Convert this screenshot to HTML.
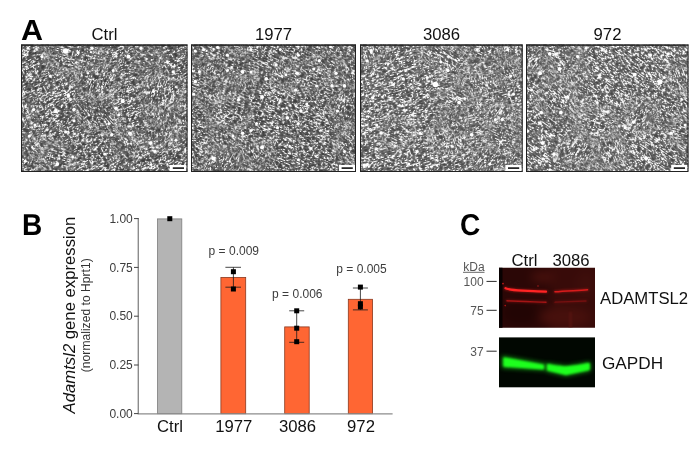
<!DOCTYPE html>
<html><head><meta charset="utf-8">
<style>
html,body{margin:0;padding:0;background:#fff;}
body{width:700px;height:455px;position:relative;overflow:hidden;font-family:"Liberation Sans",sans-serif;color:#1a1a1a;}
.abs{position:absolute;white-space:nowrap;line-height:1;}
.pl{font-weight:bold;font-size:29px;color:#000;transform:scale(0.967,1.04);transform-origin:0 24.5px;text-rendering:geometricPrecision;}
.t16{font-size:16.7px;color:#111;}
.t11{font-size:12px;color:#3c3c3c;}
.t12{font-size:12px;color:#3c3c3c;}
.c{transform:translateX(-50%);}
.r{transform:translateX(-100%);}
</style></head><body>
<svg width="700" height="455" viewBox="0 0 700 455" style="position:absolute;left:0;top:0">
<defs>
<filter id="cells" x="0" y="0" width="100%" height="100%" color-interpolation-filters="sRGB">
  <feTurbulence type="fractalNoise" baseFrequency="0.18 0.42" numOctaves="2" seed="3"/>
  <feColorMatrix type="matrix" values="1 0 0 0 0  1 0 0 0 0  1 0 0 0 0  0 0 0 0 1"/>
  <feComponentTransfer>
    <feFuncR type="table" tableValues="0.24 0.24 0.24 0.24 0.24 0.24 0.24 0.24 0.24 0.24 0.24 0.24 0.24 0.24 0.24 0.24 0.24 0.24 0.24 0.24 0.24 0.24 0.24 0.24 0.24 0.24 0.24 0.24 0.25 0.26 0.27 0.29 0.30 0.31 0.32 0.33 0.34 0.35 0.36 0.38 0.39 0.40 0.41 0.42 0.43 0.44 0.59 0.87 1.00 1.00 1.00 1.00 1.00 0.87 0.59 0.44 0.43 0.42 0.41 0.40 0.39 0.38 0.36 0.35 0.34 0.33 0.32 0.31 0.30 0.29 0.27 0.26 0.25 0.24 0.24 0.24 0.24 0.24 0.24 0.24 0.24 0.97 0.97 0.97 0.97 0.97 0.97 0.97 0.97 0.97 0.97 0.97 0.97 0.97 0.97 0.97 0.97 0.97 0.97 0.97 0.97"/>
    <feFuncG type="table" tableValues="0.24 0.24 0.24 0.24 0.24 0.24 0.24 0.24 0.24 0.24 0.24 0.24 0.24 0.24 0.24 0.24 0.24 0.24 0.24 0.24 0.24 0.24 0.24 0.24 0.24 0.24 0.24 0.24 0.25 0.26 0.27 0.29 0.30 0.31 0.32 0.33 0.34 0.35 0.36 0.38 0.39 0.40 0.41 0.42 0.43 0.44 0.59 0.87 1.00 1.00 1.00 1.00 1.00 0.87 0.59 0.44 0.43 0.42 0.41 0.40 0.39 0.38 0.36 0.35 0.34 0.33 0.32 0.31 0.30 0.29 0.27 0.26 0.25 0.24 0.24 0.24 0.24 0.24 0.24 0.24 0.24 0.97 0.97 0.97 0.97 0.97 0.97 0.97 0.97 0.97 0.97 0.97 0.97 0.97 0.97 0.97 0.97 0.97 0.97 0.97 0.97"/>
    <feFuncB type="table" tableValues="0.24 0.24 0.24 0.24 0.24 0.24 0.24 0.24 0.24 0.24 0.24 0.24 0.24 0.24 0.24 0.24 0.24 0.24 0.24 0.24 0.24 0.24 0.24 0.24 0.24 0.24 0.24 0.24 0.25 0.26 0.27 0.29 0.30 0.31 0.32 0.33 0.34 0.35 0.36 0.38 0.39 0.40 0.41 0.42 0.43 0.44 0.59 0.87 1.00 1.00 1.00 1.00 1.00 0.87 0.59 0.44 0.43 0.42 0.41 0.40 0.39 0.38 0.36 0.35 0.34 0.33 0.32 0.31 0.30 0.29 0.27 0.26 0.25 0.24 0.24 0.24 0.24 0.24 0.24 0.24 0.24 0.97 0.97 0.97 0.97 0.97 0.97 0.97 0.97 0.97 0.97 0.97 0.97 0.97 0.97 0.97 0.97 0.97 0.97 0.97 0.97"/>
  </feComponentTransfer>
  <feGaussianBlur stdDeviation="0.25"/>
</filter>
<filter id="cells2" x="0" y="0" width="100%" height="100%" color-interpolation-filters="sRGB">
  <feTurbulence type="fractalNoise" baseFrequency="0.18 0.42" numOctaves="2" seed="8"/>
  <feColorMatrix type="matrix" values="1 0 0 0 0  1 0 0 0 0  1 0 0 0 0  0 0 0 0 1"/>
  <feComponentTransfer>
    <feFuncR type="table" tableValues="0.28 0.28 0.28 0.28 0.28 0.28 0.28 0.28 0.28 0.28 0.28 0.28 0.28 0.28 0.28 0.28 0.28 0.28 0.28 0.28 0.28 0.28 0.28 0.28 0.28 0.28 0.28 0.28 0.29 0.30 0.31 0.32 0.33 0.34 0.35 0.36 0.38 0.39 0.40 0.41 0.42 0.43 0.44 0.45 0.46 0.47 0.73 0.99 1.00 1.00 1.00 1.00 1.00 0.99 0.73 0.47 0.46 0.45 0.44 0.43 0.42 0.41 0.40 0.39 0.38 0.36 0.35 0.34 0.33 0.32 0.31 0.30 0.29 0.28 0.28 0.28 0.28 0.28 0.28 0.28 0.28 0.97 0.97 0.97 0.97 0.97 0.97 0.97 0.97 0.97 0.97 0.97 0.97 0.97 0.97 0.97 0.97 0.97 0.97 0.97 0.97"/>
    <feFuncG type="table" tableValues="0.28 0.28 0.28 0.28 0.28 0.28 0.28 0.28 0.28 0.28 0.28 0.28 0.28 0.28 0.28 0.28 0.28 0.28 0.28 0.28 0.28 0.28 0.28 0.28 0.28 0.28 0.28 0.28 0.29 0.30 0.31 0.32 0.33 0.34 0.35 0.36 0.38 0.39 0.40 0.41 0.42 0.43 0.44 0.45 0.46 0.47 0.73 0.99 1.00 1.00 1.00 1.00 1.00 0.99 0.73 0.47 0.46 0.45 0.44 0.43 0.42 0.41 0.40 0.39 0.38 0.36 0.35 0.34 0.33 0.32 0.31 0.30 0.29 0.28 0.28 0.28 0.28 0.28 0.28 0.28 0.28 0.97 0.97 0.97 0.97 0.97 0.97 0.97 0.97 0.97 0.97 0.97 0.97 0.97 0.97 0.97 0.97 0.97 0.97 0.97 0.97"/>
    <feFuncB type="table" tableValues="0.28 0.28 0.28 0.28 0.28 0.28 0.28 0.28 0.28 0.28 0.28 0.28 0.28 0.28 0.28 0.28 0.28 0.28 0.28 0.28 0.28 0.28 0.28 0.28 0.28 0.28 0.28 0.28 0.29 0.30 0.31 0.32 0.33 0.34 0.35 0.36 0.38 0.39 0.40 0.41 0.42 0.43 0.44 0.45 0.46 0.47 0.73 0.99 1.00 1.00 1.00 1.00 1.00 0.99 0.73 0.47 0.46 0.45 0.44 0.43 0.42 0.41 0.40 0.39 0.38 0.36 0.35 0.34 0.33 0.32 0.31 0.30 0.29 0.28 0.28 0.28 0.28 0.28 0.28 0.28 0.28 0.97 0.97 0.97 0.97 0.97 0.97 0.97 0.97 0.97 0.97 0.97 0.97 0.97 0.97 0.97 0.97 0.97 0.97 0.97 0.97"/>
  </feComponentTransfer>
  <feGaussianBlur stdDeviation="0.25"/>
</filter>
<filter color-interpolation-filters="sRGB" id="bw" x="-5%" y="-5%" width="110%" height="110%"><feGaussianBlur stdDeviation="0.55"/></filter>
<filter color-interpolation-filters="sRGB" id="bg" x="-5%" y="-5%" width="110%" height="110%"><feGaussianBlur stdDeviation="1.2"/></filter>
<filter color-interpolation-filters="sRGB" id="mb" x="-50%" y="-50%" width="200%" height="200%"><feGaussianBlur stdDeviation="5"/></filter>
<clipPath id="pc0"><rect x="21" y="44.5" width="166.5" height="127.5"/></clipPath>
<mask id="pm0_0" maskUnits="userSpaceOnUse" x="1" y="24" width="206.5" height="168"><g fill="#fff" filter="url(#mb)"><ellipse cx="96" cy="115" rx="21" ry="14"/><ellipse cx="106" cy="119" rx="14" ry="14"/><ellipse cx="126" cy="145" rx="13" ry="12"/><ellipse cx="36" cy="147" rx="19" ry="10"/></g></mask>
<mask id="pm0_1" maskUnits="userSpaceOnUse" x="1" y="24" width="206.5" height="168"><g fill="#fff" filter="url(#mb)"><ellipse cx="182" cy="127" rx="18" ry="11"/><ellipse cx="23" cy="111" rx="13" ry="12"/><ellipse cx="61" cy="48" rx="17" ry="14"/><ellipse cx="161" cy="110" rx="18" ry="14"/></g></mask>
<mask id="pm0_2" maskUnits="userSpaceOnUse" x="1" y="24" width="206.5" height="168"><g fill="#fff" filter="url(#mb)"><ellipse cx="97" cy="79" rx="22" ry="18"/><ellipse cx="161" cy="134" rx="15" ry="12"/><ellipse cx="69" cy="53" rx="20" ry="13"/><ellipse cx="162" cy="93" rx="22" ry="17"/></g></mask>
<mask id="pm0_3" maskUnits="userSpaceOnUse" x="1" y="24" width="206.5" height="168"><g fill="#fff" filter="url(#mb)"><ellipse cx="56" cy="160" rx="17" ry="18"/><ellipse cx="87" cy="53" rx="18" ry="16"/><ellipse cx="66" cy="55" rx="15" ry="18"/><ellipse cx="147" cy="59" rx="14" ry="11"/></g></mask>
<clipPath id="pc1"><rect x="191" y="44.5" width="165" height="127.5"/></clipPath>
<mask id="pm1_0" maskUnits="userSpaceOnUse" x="171" y="24" width="205" height="168"><g fill="#fff" filter="url(#mb)"><ellipse cx="323" cy="67" rx="18" ry="14"/><ellipse cx="222" cy="137" rx="13" ry="15"/><ellipse cx="210" cy="97" rx="14" ry="12"/><ellipse cx="351" cy="146" rx="15" ry="17"/></g></mask>
<mask id="pm1_1" maskUnits="userSpaceOnUse" x="171" y="24" width="205" height="168"><g fill="#fff" filter="url(#mb)"><ellipse cx="256" cy="153" rx="18" ry="11"/><ellipse cx="354" cy="71" rx="15" ry="16"/><ellipse cx="245" cy="82" rx="13" ry="11"/><ellipse cx="287" cy="75" rx="18" ry="13"/></g></mask>
<mask id="pm1_2" maskUnits="userSpaceOnUse" x="171" y="24" width="205" height="168"><g fill="#fff" filter="url(#mb)"><ellipse cx="349" cy="105" rx="18" ry="17"/><ellipse cx="221" cy="64" rx="21" ry="17"/><ellipse cx="232" cy="68" rx="19" ry="18"/><ellipse cx="223" cy="165" rx="21" ry="15"/></g></mask>
<mask id="pm1_3" maskUnits="userSpaceOnUse" x="171" y="24" width="205" height="168"><g fill="#fff" filter="url(#mb)"><ellipse cx="208" cy="49" rx="22" ry="12"/><ellipse cx="307" cy="77" rx="20" ry="15"/><ellipse cx="239" cy="66" rx="19" ry="11"/><ellipse cx="229" cy="115" rx="21" ry="15"/></g></mask>
<clipPath id="pc2"><rect x="360" y="44.5" width="162.5" height="127.5"/></clipPath>
<mask id="pm2_0" maskUnits="userSpaceOnUse" x="340" y="24" width="202.5" height="168"><g fill="#fff" filter="url(#mb)"><ellipse cx="509" cy="70" rx="12" ry="12"/><ellipse cx="432" cy="52" rx="14" ry="13"/><ellipse cx="453" cy="61" rx="16" ry="17"/><ellipse cx="519" cy="127" rx="19" ry="15"/></g></mask>
<mask id="pm2_1" maskUnits="userSpaceOnUse" x="340" y="24" width="202.5" height="168"><g fill="#fff" filter="url(#mb)"><ellipse cx="366" cy="46" rx="21" ry="16"/><ellipse cx="516" cy="47" rx="18" ry="14"/><ellipse cx="479" cy="85" rx="22" ry="11"/><ellipse cx="449" cy="138" rx="21" ry="16"/></g></mask>
<mask id="pm2_2" maskUnits="userSpaceOnUse" x="340" y="24" width="202.5" height="168"><g fill="#fff" filter="url(#mb)"><ellipse cx="489" cy="160" rx="16" ry="15"/><ellipse cx="506" cy="155" rx="16" ry="16"/><ellipse cx="500" cy="117" rx="18" ry="13"/><ellipse cx="455" cy="121" rx="13" ry="15"/></g></mask>
<mask id="pm2_3" maskUnits="userSpaceOnUse" x="340" y="24" width="202.5" height="168"><g fill="#fff" filter="url(#mb)"><ellipse cx="503" cy="136" rx="16" ry="16"/><ellipse cx="454" cy="100" rx="20" ry="11"/><ellipse cx="482" cy="48" rx="18" ry="14"/><ellipse cx="397" cy="133" rx="17" ry="15"/></g></mask>
<clipPath id="pc3"><rect x="526" y="44.5" width="162.5" height="127.5"/></clipPath>
<mask id="pm3_0" maskUnits="userSpaceOnUse" x="506" y="24" width="202.5" height="168"><g fill="#fff" filter="url(#mb)"><ellipse cx="568" cy="45" rx="15" ry="15"/><ellipse cx="559" cy="66" rx="21" ry="15"/><ellipse cx="598" cy="157" rx="15" ry="15"/><ellipse cx="558" cy="99" rx="20" ry="17"/></g></mask>
<mask id="pm3_1" maskUnits="userSpaceOnUse" x="506" y="24" width="202.5" height="168"><g fill="#fff" filter="url(#mb)"><ellipse cx="588" cy="118" rx="15" ry="11"/><ellipse cx="607" cy="150" rx="20" ry="16"/><ellipse cx="680" cy="79" rx="14" ry="14"/><ellipse cx="571" cy="71" rx="16" ry="15"/></g></mask>
<mask id="pm3_2" maskUnits="userSpaceOnUse" x="506" y="24" width="202.5" height="168"><g fill="#fff" filter="url(#mb)"><ellipse cx="577" cy="151" rx="22" ry="14"/><ellipse cx="538" cy="48" rx="21" ry="10"/><ellipse cx="641" cy="116" rx="15" ry="16"/><ellipse cx="529" cy="61" rx="17" ry="10"/></g></mask>
<mask id="pm3_3" maskUnits="userSpaceOnUse" x="506" y="24" width="202.5" height="168"><g fill="#fff" filter="url(#mb)"><ellipse cx="565" cy="62" rx="12" ry="15"/><ellipse cx="599" cy="124" rx="19" ry="16"/><ellipse cx="682" cy="131" rx="14" ry="14"/><ellipse cx="555" cy="45" rx="17" ry="16"/></g></mask>
<filter color-interpolation-filters="sRGB" id="b1" x="-20%" y="-100%" width="140%" height="300%"><feGaussianBlur stdDeviation="0.7"/></filter>
<filter color-interpolation-filters="sRGB" id="b2" x="-20%" y="-100%" width="140%" height="300%"><feGaussianBlur stdDeviation="1.1"/></filter>
<filter color-interpolation-filters="sRGB" id="b4" x="-20%" y="-200%" width="140%" height="500%"><feGaussianBlur stdDeviation="1.3"/></filter>
<filter color-interpolation-filters="sRGB" id="b5" x="-20%" y="-100%" width="140%" height="300%"><feGaussianBlur stdDeviation="2"/></filter>
<filter color-interpolation-filters="sRGB" id="b6" x="-20%" y="-100%" width="140%" height="300%"><feGaussianBlur stdDeviation="0.8"/></filter>
<filter color-interpolation-filters="sRGB" id="b3" filterUnits="userSpaceOnUse" x="470" y="240" width="160" height="120"><feGaussianBlur stdDeviation="5"/></filter>
<clipPath id="cr"><rect x="499" y="267.7" width="96" height="60"/></clipPath>
<clipPath id="cg"><rect x="499" y="337.2" width="96" height="50.4"/></clipPath>
</defs>

<!-- Panel A images -->
<g id="pA">
<g clip-path="url(#pc0)">
<g transform="rotate(-28 104.25 107.5)"><rect x="-24" y="-15" width="256.5" height="245" filter="url(#cells)"/></g>
<g mask="url(#pm0_0)"><g transform="rotate(49 104.25 107.5)"><rect x="-24" y="-15" width="256.5" height="245" filter="url(#cells)"/></g></g>
<g mask="url(#pm0_1)"><g transform="rotate(70 104.25 107.5)"><rect x="-24" y="-15" width="256.5" height="245" filter="url(#cells)"/></g></g>
<g mask="url(#pm0_2)"><g transform="rotate(-69 104.25 107.5)"><rect x="-24" y="-15" width="256.5" height="245" filter="url(#cells)"/></g></g>
<g mask="url(#pm0_3)"><g transform="rotate(14 104.25 107.5)"><rect x="-24" y="-15" width="256.5" height="245" filter="url(#cells)"/></g></g>
</g>
<g clip-path="url(#pc1)">
<g transform="rotate(22 273.5 107.5)"><rect x="146" y="-15" width="255" height="245" filter="url(#cells)"/></g>
<g mask="url(#pm1_0)"><g transform="rotate(38 273.5 107.5)"><rect x="146" y="-15" width="255" height="245" filter="url(#cells)"/></g></g>
<g mask="url(#pm1_1)"><g transform="rotate(67 273.5 107.5)"><rect x="146" y="-15" width="255" height="245" filter="url(#cells)"/></g></g>
<g mask="url(#pm1_2)"><g transform="rotate(-63 273.5 107.5)"><rect x="146" y="-15" width="255" height="245" filter="url(#cells)"/></g></g>
<g mask="url(#pm1_3)"><g transform="rotate(17 273.5 107.5)"><rect x="146" y="-15" width="255" height="245" filter="url(#cells)"/></g></g>
</g>
<g clip-path="url(#pc2)">
<g transform="rotate(-15 441.25 107.5)"><rect x="315" y="-15" width="252.5" height="245" filter="url(#cells2)"/></g>
<g mask="url(#pm2_0)"><g transform="rotate(37 441.25 107.5)"><rect x="315" y="-15" width="252.5" height="245" filter="url(#cells2)"/></g></g>
<g mask="url(#pm2_1)"><g transform="rotate(71 441.25 107.5)"><rect x="315" y="-15" width="252.5" height="245" filter="url(#cells2)"/></g></g>
<g mask="url(#pm2_2)"><g transform="rotate(-55 441.25 107.5)"><rect x="315" y="-15" width="252.5" height="245" filter="url(#cells2)"/></g></g>
<g mask="url(#pm2_3)"><g transform="rotate(26 441.25 107.5)"><rect x="315" y="-15" width="252.5" height="245" filter="url(#cells2)"/></g></g>
</g>
<g clip-path="url(#pc3)">
<g transform="rotate(35 607.25 107.5)"><rect x="481" y="-15" width="252.5" height="245" filter="url(#cells2)"/></g>
<g mask="url(#pm3_0)"><g transform="rotate(47 607.25 107.5)"><rect x="481" y="-15" width="252.5" height="245" filter="url(#cells2)"/></g></g>
<g mask="url(#pm3_1)"><g transform="rotate(68 607.25 107.5)"><rect x="481" y="-15" width="252.5" height="245" filter="url(#cells2)"/></g></g>
<g mask="url(#pm3_2)"><g transform="rotate(-57 607.25 107.5)"><rect x="481" y="-15" width="252.5" height="245" filter="url(#cells2)"/></g></g>
<g mask="url(#pm3_3)"><g transform="rotate(16 607.25 107.5)"><rect x="481" y="-15" width="252.5" height="245" filter="url(#cells2)"/></g></g>
</g>
<g fill="#6e6e6e" filter="url(#bg)" opacity="0.85">
<ellipse cx="418.6" cy="71.9" rx="4.5" ry="2.2"/>
<ellipse cx="443.7" cy="95.6" rx="2.8" ry="2.2"/>
<ellipse cx="382.3" cy="87.3" rx="2.8" ry="1.7"/>
<ellipse cx="505.1" cy="102.6" rx="2.2" ry="2.8"/>
<ellipse cx="385.1" cy="126.3" rx="2.2" ry="1.4"/>
<ellipse cx="420.0" cy="151.5" rx="2.2" ry="2.2"/>
<ellipse cx="648.8" cy="118.0" rx="3.3" ry="3.3"/>
<ellipse cx="537.2" cy="133.3" rx="3.3" ry="2.2"/>
<ellipse cx="618.1" cy="136.1" rx="3.9" ry="1.7"/>
<ellipse cx="584.6" cy="95.6" rx="2.2" ry="2.2"/>
</g>
<g fill="#fff" filter="url(#bw)">
<circle cx="65.6" cy="51.0" r="2.8"/>
<circle cx="78.2" cy="52.4" r="1.5"/>
<circle cx="92.1" cy="48.2" r="1.5"/>
<circle cx="128.4" cy="56.6" r="2.0"/>
<circle cx="141.0" cy="48.2" r="1.6"/>
<circle cx="173.1" cy="71.9" r="1.6"/>
<circle cx="167.5" cy="62.1" r="1.5"/>
<circle cx="41.9" cy="56.6" r="1.6"/>
<circle cx="28.0" cy="48.2" r="1.5"/>
<circle cx="50.3" cy="76.1" r="1.6"/>
<circle cx="113.1" cy="70.5" r="1.5"/>
<circle cx="88.0" cy="73.3" r="1.2"/>
<circle cx="68.4" cy="95.6" r="1.8"/>
<circle cx="122.8" cy="101.2" r="2.0"/>
<circle cx="153.5" cy="91.4" r="1.6"/>
<circle cx="115.9" cy="108.2" r="1.8"/>
<circle cx="55.9" cy="111.0" r="1.9"/>
<circle cx="74.0" cy="109.6" r="1.8"/>
<circle cx="33.6" cy="109.6" r="1.6"/>
<circle cx="35.0" cy="124.9" r="1.5"/>
<circle cx="74.0" cy="120.7" r="1.5"/>
<circle cx="118.7" cy="115.1" r="1.5"/>
<circle cx="108.9" cy="123.5" r="1.5"/>
<circle cx="29.4" cy="136.1" r="1.5"/>
<circle cx="65.6" cy="131.9" r="1.6"/>
<circle cx="111.7" cy="134.7" r="1.6"/>
<circle cx="129.8" cy="133.3" r="1.8"/>
<circle cx="150.7" cy="143.1" r="1.8"/>
<circle cx="57.3" cy="164.0" r="1.9"/>
<circle cx="72.6" cy="157.0" r="1.5"/>
<circle cx="25.2" cy="161.2" r="1.5"/>
<circle cx="154.9" cy="151.4" r="1.5"/>
<circle cx="175.9" cy="140.3" r="1.5"/>
<circle cx="104.7" cy="154.2" r="1.4"/>
<circle cx="195.2" cy="51.0" r="1.6"/>
<circle cx="203.6" cy="49.6" r="1.5"/>
<circle cx="217.5" cy="47.3" r="1.5"/>
<circle cx="227.3" cy="55.2" r="1.6"/>
<circle cx="251.0" cy="49.6" r="1.6"/>
<circle cx="280.3" cy="49.6" r="1.5"/>
<circle cx="298.4" cy="55.2" r="1.5"/>
<circle cx="319.3" cy="60.7" r="1.6"/>
<circle cx="330.5" cy="46.8" r="1.5"/>
<circle cx="195.2" cy="81.7" r="1.9"/>
<circle cx="199.4" cy="71.9" r="1.5"/>
<circle cx="227.3" cy="70.5" r="1.5"/>
<circle cx="242.6" cy="71.9" r="1.8"/>
<circle cx="251.0" cy="71.9" r="1.5"/>
<circle cx="266.3" cy="78.9" r="1.8"/>
<circle cx="276.1" cy="64.9" r="1.6"/>
<circle cx="285.9" cy="74.7" r="1.5"/>
<circle cx="297.0" cy="73.3" r="1.8"/>
<circle cx="313.8" cy="69.1" r="1.5"/>
<circle cx="336.1" cy="73.3" r="1.6"/>
<circle cx="344.5" cy="85.9" r="1.8"/>
<circle cx="331.9" cy="85.9" r="1.5"/>
<circle cx="316.6" cy="85.9" r="1.5"/>
<circle cx="295.6" cy="90.0" r="1.6"/>
<circle cx="306.8" cy="104.0" r="1.4"/>
<circle cx="262.1" cy="97.0" r="1.9"/>
<circle cx="238.4" cy="99.8" r="1.5"/>
<circle cx="301.2" cy="111.0" r="1.5"/>
<circle cx="287.3" cy="117.9" r="1.8"/>
<circle cx="298.4" cy="123.5" r="1.5"/>
<circle cx="277.5" cy="127.7" r="1.6"/>
<circle cx="256.6" cy="123.5" r="1.5"/>
<circle cx="251.0" cy="130.5" r="1.5"/>
<circle cx="242.6" cy="133.3" r="1.8"/>
<circle cx="232.9" cy="136.1" r="1.5"/>
<circle cx="262.1" cy="147.2" r="2.0"/>
<circle cx="213.3" cy="158.4" r="2.0"/>
<circle cx="311.0" cy="148.6" r="1.5"/>
<circle cx="298.4" cy="159.8" r="1.5"/>
<circle cx="344.5" cy="151.4" r="1.5"/>
<circle cx="337.5" cy="111.0" r="1.6"/>
<circle cx="193.8" cy="94.2" r="1.5"/>
<circle cx="435.4" cy="84.5" r="2.8"/>
<circle cx="447.9" cy="70.5" r="1.8"/>
<circle cx="440.9" cy="62.1" r="1.5"/>
<circle cx="459.1" cy="102.6" r="1.9"/>
<circle cx="464.7" cy="98.4" r="1.5"/>
<circle cx="427.0" cy="77.5" r="1.5"/>
<circle cx="403.3" cy="78.9" r="1.6"/>
<circle cx="393.5" cy="84.5" r="1.5"/>
<circle cx="502.3" cy="119.4" r="1.6"/>
<circle cx="495.4" cy="119.4" r="1.5"/>
<circle cx="471.6" cy="134.7" r="1.8"/>
<circle cx="420.0" cy="133.3" r="1.6"/>
<circle cx="376.7" cy="124.9" r="1.5"/>
<circle cx="510.7" cy="76.1" r="1.5"/>
<circle cx="513.5" cy="94.2" r="1.5"/>
<circle cx="364.2" cy="165.4" r="1.8"/>
<circle cx="417.2" cy="151.5" r="1.5"/>
<circle cx="489.8" cy="164.0" r="1.5"/>
<circle cx="408.8" cy="164.0" r="1.5"/>
<circle cx="477.2" cy="49.6" r="1.5"/>
<circle cx="507.9" cy="49.6" r="1.6"/>
<circle cx="367.0" cy="60.7" r="1.5"/>
<circle cx="380.9" cy="133.3" r="1.5"/>
<circle cx="549.7" cy="53.8" r="1.9"/>
<circle cx="540.0" cy="73.3" r="2.0"/>
<circle cx="559.5" cy="69.1" r="2.0"/>
<circle cx="577.6" cy="56.6" r="1.6"/>
<circle cx="660.0" cy="81.7" r="2.5"/>
<circle cx="664.2" cy="77.5" r="1.6"/>
<circle cx="634.8" cy="74.7" r="1.9"/>
<circle cx="650.2" cy="55.2" r="1.8"/>
<circle cx="668.3" cy="53.8" r="1.6"/>
<circle cx="560.9" cy="112.4" r="1.9"/>
<circle cx="541.4" cy="112.4" r="1.6"/>
<circle cx="542.7" cy="143.1" r="2.0"/>
<circle cx="553.9" cy="154.2" r="1.8"/>
<circle cx="633.5" cy="122.1" r="1.8"/>
<circle cx="625.1" cy="127.7" r="1.6"/>
<circle cx="671.1" cy="133.3" r="1.8"/>
<circle cx="646.0" cy="158.4" r="1.8"/>
<circle cx="597.2" cy="102.6" r="1.5"/>
<circle cx="531.6" cy="90.1" r="1.5"/>
<circle cx="567.9" cy="97.0" r="1.5"/>
<circle cx="586.0" cy="48.2" r="1.5"/>
<circle cx="685.1" cy="124.9" r="1.5"/>
</g>
<g fill="none" stroke="#222" stroke-width="1">
<rect x="21.5" y="45.2" width="165.5" height="126.3"/>
<rect x="191.5" y="45.2" width="164" height="126.3"/>
<rect x="360.5" y="45.2" width="161.7" height="126.3"/>
<rect x="526.5" y="45.2" width="161.5" height="126.3"/>
<path d="M21 44.95 H187.5 M191 44.95 H356 M360 44.95 H522.7 M526 44.95 H688.5" stroke-width="0.9"/>
</g>
<!-- scale bars -->
<g>
<rect x="170" y="165" width="16.2" height="6" fill="#fff"/><rect x="172.8" y="167.3" width="11.2" height="1.6" fill="#111"/>
<rect x="339" y="165" width="16" height="6" fill="#fff"/><rect x="341.6" y="167.3" width="11.2" height="1.6" fill="#111"/>
<rect x="505.4" y="165" width="16" height="6" fill="#fff"/><rect x="508" y="167.3" width="11.2" height="1.6" fill="#111"/>
<rect x="671.2" y="165" width="16" height="6" fill="#fff"/><rect x="673.8" y="167.3" width="11.2" height="1.6" fill="#111"/>
</g>
</g>

<!-- Panel B chart -->
<g id="pB">
<!-- bars -->
<rect x="157.5" y="218.9" width="24.3" height="194.8" fill="#b4b4b4" stroke="#7d7d7d" stroke-width="0.8"/>
<rect x="220.9" y="277.4" width="24.8" height="136.3" fill="#ff6633" stroke="#8a3a20" stroke-width="0.8"/>
<rect x="284.7" y="326.9" width="24.5" height="86.8" fill="#ff6633" stroke="#8a3a20" stroke-width="0.8"/>
<rect x="348.3" y="299.3" width="24.3" height="114.4" fill="#ff6633" stroke="#8a3a20" stroke-width="0.8"/>
<!-- axes -->
<g stroke="#8c8c8c" stroke-width="1.4" fill="none">
<path d="M138.3 218 V414"/>
<path d="M137.6 413.9 H392.6"/>
</g>
<g stroke="#444" stroke-width="1" fill="none">
<path d="M134 218.6 H138.5 M134 267.4 H138.5 M134 316.2 H138.5 M134 365 H138.5 M134 413.6 H138.5"/>
</g>
<!-- error bars -->
<g stroke="#1a1a1a" stroke-width="0.8" fill="none">
<path d="M233.4 267.3 V287.2 M225.4 267.3 H241 M225.4 287.2 H241"/>
<path d="M296.7 310.8 V342.3 M289.2 310.8 H304.2 M289.2 342.3 H304.2"/>
<path d="M360.4 288 V309.9 M352.9 288 H367.9 M352.9 309.9 H367.9"/>
</g>
<!-- markers -->
<g fill="#000">
<rect x="167.3" y="216.2" width="5" height="5"/>
<rect x="230.9" y="269.2" width="5" height="5"/>
<rect x="230.9" y="286.5" width="5" height="5"/>
<rect x="294.2" y="308.3" width="5" height="5"/>
<rect x="294.2" y="325.7" width="5" height="5"/>
<rect x="294.2" y="339.2" width="5" height="5"/>
<rect x="357.9" y="284.6" width="5" height="5"/>
<rect x="357.9" y="301.2" width="5" height="5"/>
<rect x="357.9" y="304.4" width="5" height="5"/>
</g>
</g>

<!-- Panel C blots -->
<g id="pC">
<g clip-path="url(#cr)">
<g filter="url(#b3)">
<rect x="475" y="245" width="150" height="110" fill="#2b0706"/>
<rect x="550" y="245" width="75" height="110" fill="#380b09"/>
<ellipse cx="565" cy="317" rx="26" ry="10" fill="#47100c"/>
<ellipse cx="543" cy="277" rx="12" ry="6" fill="#47100c"/>
<ellipse cx="586" cy="285" rx="10" ry="14" fill="#3e0e0b"/>
<ellipse cx="520" cy="313" rx="18" ry="12" fill="#220504"/>
</g>
<rect x="569" y="312" width="3" height="16" fill="#5a1612" filter="url(#b2)" opacity="0.7"/>
<rect x="497" y="267" width="5.5" height="61" fill="#080101" filter="url(#b1)"/>
<g filter="url(#b4)" fill="none" stroke-linecap="round" opacity="0.4">
<path d="M505.5 288.4 C509 291 530 290.8 546 291.6" stroke="#ff2020" stroke-width="3.4"/>
<path d="M555 291.8 C565 290.8 578 290.6 587.5 289.8" stroke="#e81c1c" stroke-width="2.6"/>
<path d="M507 300.8 C520 301.6 535 301.8 546 302.2" stroke="#a01414" stroke-width="3"/>
<path d="M555 302.2 C565 301.8 575 301.4 586 301" stroke="#701010" stroke-width="3"/>
</g>
<g filter="url(#b1)" fill="none" stroke-linecap="round">
<path d="M505.5 288.2 C509 291 530 290.8 546 291.6" stroke="#ff2424" stroke-width="2.2"/>
<path d="M555 291.8 C565 290.8 578 290.6 587.5 289.8" stroke="#d81c1c" stroke-width="1.5"/>
<path d="M507 300.8 C520 301.6 535 301.8 546 302.2" stroke="#a41515" stroke-width="1.4"/>
<path d="M555 302.2 C565 301.8 575 301.4 586 301" stroke="#741010" stroke-width="1.3"/>
</g>
<circle cx="503" cy="283.6" r="0.9" fill="#c01818"/>
<circle cx="505.2" cy="305.6" r="0.8" fill="#b01515"/>
<circle cx="538" cy="286" r="0.9" fill="#7a1412"/>
</g>
<g clip-path="url(#cg)">
<rect x="499" y="337.2" width="96" height="50.4" fill="#010701"/>
<g filter="url(#b5)" opacity="0.6">
<path d="M503.5 357.6 L543.3 364.8 L543.3 368.8 L503.5 366.6 Z" fill="#18c818" stroke="#18c818" stroke-width="4" stroke-linejoin="round"/>
<path d="M547.2 364.8 L566 367.6 L589 363.6 L589 369.8 L566 374.4 L547.2 370 Z" fill="#18c818" stroke="#18c818" stroke-width="4" stroke-linejoin="round"/>
</g>
<g filter="url(#b6)">
<path d="M504.5 358.6 L542.8 365.6 L542.8 368.2 L504.5 365.6 Z" fill="#1eff1e" stroke="#1eff1e" stroke-width="2.4" stroke-linejoin="round"/>
<path d="M548.2 365.2 C556 366.4 560 367.2 566 367.4 C572 367 582 365.2 588.6 364.2 L588.6 369 L566 373.8 L548.2 369.6 Z" fill="#1eff1e" stroke="#1eff1e" stroke-width="2.4" stroke-linejoin="round"/>
</g>
</g>
<g stroke="#2a2a2a" stroke-width="1" fill="none">
<path d="M486.5 281.4 H496.7 M486.5 310.3 H496.7 M486.5 351.2 H496.7"/>
<path d="M463 272.3 H484.5" stroke="#555" stroke-width="0.9"/>
</g>
</g>
</svg>

<!-- Text -->
<div id="txt" style="position:absolute;left:0;top:0;width:700px;height:455px;will-change:transform;">
<div class="abs pl" style="left:21.3px;top:17px;transform:scale(1.05,1.0);">A</div>
<div class="abs pl" style="left:21.8px;top:212.2px;">B</div>
<div class="abs pl" style="left:459.6px;top:212.3px;">C</div>

<div class="abs t16 c" style="left:104.5px;top:27.3px;">Ctrl</div>
<div class="abs t16 c" style="left:273.5px;top:27.3px;">1977</div>
<div class="abs t16 c" style="left:441.5px;top:27.3px;">3086</div>
<div class="abs t16 c" style="left:607.5px;top:27.3px;">972</div>

<div class="abs t11 r" style="left:132.8px;top:212.7px;">1.00</div>
<div class="abs t11 r" style="left:132.8px;top:261.5px;">0.75</div>
<div class="abs t11 r" style="left:132.8px;top:310.3px;">0.50</div>
<div class="abs t11 r" style="left:132.8px;top:359.1px;">0.25</div>
<div class="abs t11 r" style="left:132.8px;top:407.7px;">0.00</div>

<div class="abs t16 c" style="left:170px;top:418.8px;">Ctrl</div>
<div class="abs t16 c" style="left:233.7px;top:418.8px;">1977</div>
<div class="abs t16 c" style="left:297.5px;top:418.8px;">3086</div>
<div class="abs t16 c" style="left:361px;top:418.8px;">972</div>

<div class="abs t12 c" style="left:233.8px;top:244.6px;">p = 0.009</div>
<div class="abs t12 c" style="left:297.3px;top:287.7px;">p = 0.006</div>
<div class="abs t12 c" style="left:361.5px;top:263.4px;">p = 0.005</div>

<div class="abs t16" id="yl1" style="left:0;top:0;transform-origin:0 0;transform:translate(62.1px,413.4px) rotate(-90deg);"><i>Adamtsl2</i> gene expression</div>
<div class="abs t11" id="yl2" style="left:0;top:0;transform-origin:0 0;transform:translate(80.3px,372.2px) rotate(-90deg);color:#333;letter-spacing:0.06px;">(normalized to Hprt1)</div>

<div class="abs t16" style="left:511.5px;top:252.5px;">Ctrl</div>
<div class="abs t16" style="left:552.4px;top:252.5px;">3086</div>
<div class="abs t11" style="left:463.3px;top:260.6px;color:#555;">kDa</div>
<div class="abs t11 r" style="left:483.6px;top:275.6px;color:#555;">100</div>
<div class="abs t11 r" style="left:483.6px;top:304.5px;color:#555;">75</div>
<div class="abs t11 r" style="left:483.6px;top:345.5px;color:#555;">37</div>
<div class="abs t16" style="left:600px;top:291px;">ADAMTSL2</div>
<div class="abs t16" style="left:602px;top:354.6px;font-size:17.2px;">GAPDH</div>
</div>
</body></html>
